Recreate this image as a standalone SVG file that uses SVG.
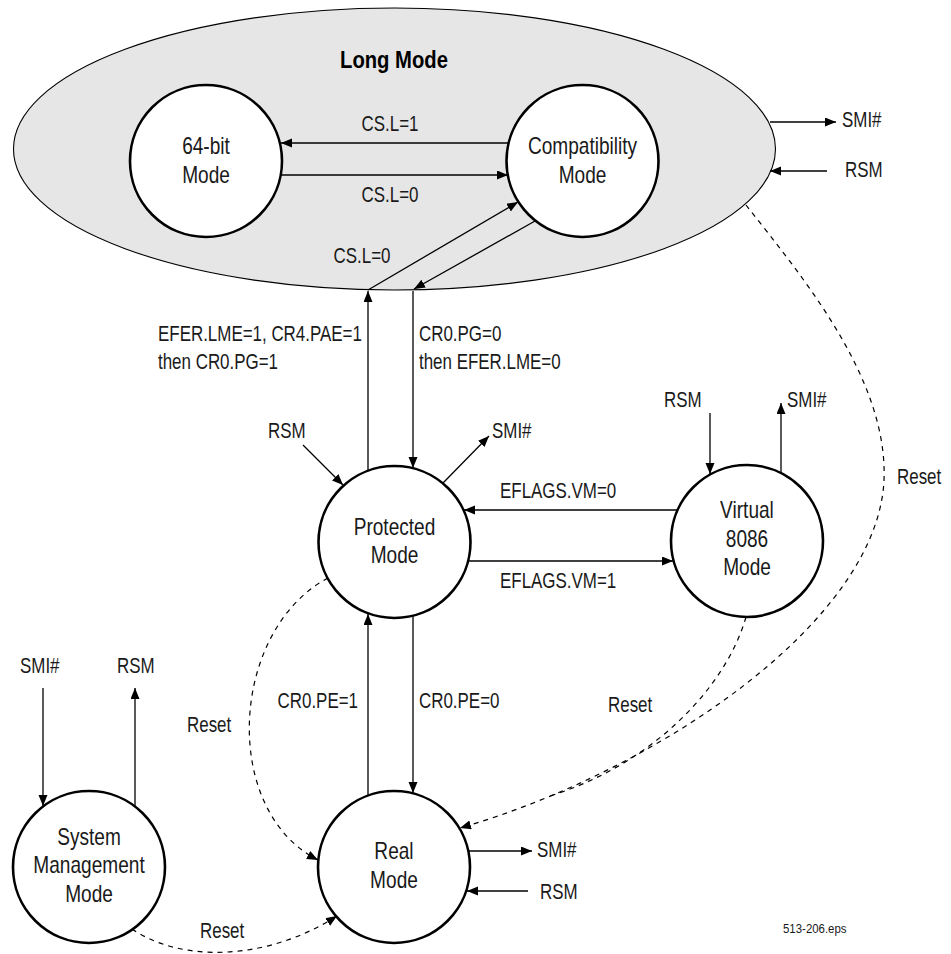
<svg xmlns="http://www.w3.org/2000/svg" width="951" height="954" viewBox="0 0 951 954">
<style>
  .node { fill: #ffffff; stroke: #000; stroke-width: 2.6; }
  .t { font-family: "Liberation Sans", Arial, sans-serif; font-size: 22px; fill: #1a1a1a; transform-box: fill-box; transform-origin: left center; transform: scaleX(0.77); }
  .n { font-family: "Liberation Sans", Arial, sans-serif; font-size: 23px; fill: #1a1a1a; text-anchor: middle; transform-box: fill-box; transform-origin: center center; transform: scaleX(0.83); }
  .t.c { text-anchor: middle; transform-origin: center center; }
  .t.e { text-anchor: end; transform-origin: right center; }
  .edge { fill: none; stroke: #000; stroke-width: 1.3; marker-end: url(#ah); }
  .dash { fill: none; stroke: #000; stroke-width: 1.2; stroke-dasharray: 5 5; }
</style>
<defs>
  <marker id="ah" markerUnits="userSpaceOnUse" markerWidth="12" markerHeight="10" refX="11" refY="4.5" orient="auto">
    <path d="M0,0 L11,4.5 L0,9 z" fill="#000" stroke="none"/>
  </marker>
</defs>
<rect width="951" height="954" fill="#ffffff"/>

<g id="long-mode">
  <ellipse cx="394.5" cy="149" rx="381" ry="141" fill="#e6e6e6" stroke="#000" stroke-width="1.1"/>
  <text x="394" y="68" text-anchor="middle" font-family="Liberation Sans, Arial, sans-serif" font-size="23" font-weight="bold" fill="#000" style="transform-box: fill-box; transform-origin: center center; transform: scaleX(0.88);">Long Mode</text>
</g>

<g id="mode-64bit">
  <circle class="node" cx="206" cy="161" r="76"/>
  <text class="n" x="206" y="154">64-bit</text>
  <text class="n" x="206" y="183">Mode</text>
</g>

<g id="compatibility-mode">
  <circle class="node" cx="582.5" cy="161" r="76"/>
  <text class="n" x="582.5" y="154">Compatibility</text>
  <text class="n" x="582.5" y="183">Mode</text>
</g>

<g id="protected-mode">
  <circle class="node" cx="394.5" cy="542" r="76"/>
  <text class="n" x="394.5" y="535">Protected</text>
  <text class="n" x="394.5" y="563">Mode</text>
</g>

<g id="virtual-8086-mode">
  <circle class="node" cx="747" cy="541" r="76"/>
  <text class="n" x="747" y="518">Virtual</text>
  <text class="n" x="747" y="547">8086</text>
  <text class="n" x="747" y="575">Mode</text>
</g>

<g id="real-mode">
  <circle class="node" cx="394" cy="867" r="76"/>
  <text class="n" x="394" y="859">Real</text>
  <text class="n" x="394" y="888">Mode</text>
</g>

<g id="system-management-mode">
  <circle class="node" cx="89" cy="867" r="76"/>
  <text class="n" x="89" y="845">System</text>
  <text class="n" x="89" y="873">Management</text>
  <text class="n" x="89" y="902">Mode</text>
</g>

<g id="connectors">
  <path class="edge" d="M508 143 L281 143"/>
  <path class="edge" d="M281 175 L508 175"/>
  <path class="edge" d="M368 290 L518 202"/>
  <path class="edge" d="M535 221 L414 289"/>
  <path class="edge" d="M368 471 L368 291"/>
  <path class="edge" d="M413 291 L413 468"/>
  <path class="edge" d="M303 445 L343 485"/>
  <path class="edge" d="M443 483 L489 436"/>
  <path class="edge" d="M678 510 L464 510"/>
  <path class="edge" d="M468 561 L673 561"/>
  <path class="edge" d="M710 413 L710 474"/>
  <path class="edge" d="M781 473 L781 403"/>
  <path class="edge" d="M770 122 L836 122"/>
  <path class="edge" d="M827 171 L770 171"/>
  <path class="edge" d="M368 796 L368 614"/>
  <path class="edge" d="M413 616 L413 793"/>
  <path class="edge" d="M469 851 L532 851"/>
  <path class="edge" d="M528 891 L467 891"/>
  <path class="edge" d="M43 688 L43 806"/>
  <path class="edge" d="M135 806 L135 688"/>
  <path class="dash" d="M328 578 C230 630, 220 810, 318 860" marker-end="url(#ah)"/>
  <path class="dash" d="M132 929 C180 962, 265 962, 337 916" marker-end="url(#ah)"/>
  <path class="dash" d="M746 205 C805 280, 888 380, 884 480 C878 620, 660 770, 460 828" marker-end="url(#ah)"/>
  <path class="dash" d="M746 617 C725 690, 650 765, 550 796"/>
</g>

<g id="labels">
  <text class="t c" x="390" y="131">CS.L=1</text>
  <text class="t c" x="390" y="202">CS.L=0</text>
  <text class="t c" x="362" y="263">CS.L=0</text>
  <text class="t" x="158" y="341">EFER.LME=1, CR4.PAE=1</text>
  <text class="t" x="158" y="369">then CR0.PG=1</text>
  <text class="t" x="419" y="341">CR0.PG=0</text>
  <text class="t" x="419" y="369">then EFER.LME=0</text>
  <text class="t" x="268" y="438">RSM</text>
  <text class="t" x="492" y="438">SMI#</text>
  <text class="t" x="500" y="498">EFLAGS.VM=0</text>
  <text class="t" x="500" y="588">EFLAGS.VM=1</text>
  <text class="t" x="664" y="407">RSM</text>
  <text class="t" x="787" y="407">SMI#</text>
  <text class="t" x="897" y="484">Reset</text>
  <text class="t" x="842" y="127">SMI#</text>
  <text class="t" x="845" y="177">RSM</text>
  <text class="t e" x="358" y="708">CR0.PE=1</text>
  <text class="t" x="419" y="708">CR0.PE=0</text>
  <text class="t" x="608" y="712">Reset</text>
  <text class="t" x="187" y="732">Reset</text>
  <text class="t" x="20" y="673">SMI#</text>
  <text class="t" x="117" y="673">RSM</text>
  <text class="t" x="200" y="938">Reset</text>
  <text class="t" x="537" y="857">SMI#</text>
  <text class="t" x="540" y="899">RSM</text>
  <text x="783" y="933" font-family="Liberation Sans, Arial, sans-serif" font-size="13" fill="#1a1a1a" style="transform-box: fill-box; transform-origin: left center; transform: scaleX(0.88);">513-206.eps</text>
</g>
</svg>
